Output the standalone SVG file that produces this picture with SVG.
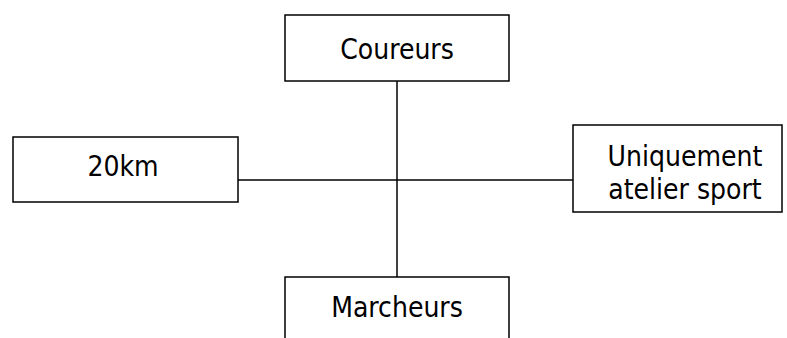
<svg xmlns="http://www.w3.org/2000/svg" width="787" height="338" viewBox="0 0 787 338">
<style>
.box{fill:#fff;stroke:#000;stroke-width:1.5}
.t{font-family:"DejaVu Sans Condensed","DejaVu Sans",sans-serif;font-stretch:condensed;font-size:28px;fill:#000;text-anchor:middle}
.c{stroke:#000;stroke-width:1.5;fill:none}
</style>
<rect width="787" height="338" fill="#fff"/>
<g id="connectors">
<line class="c" x1="397" y1="81" x2="397" y2="277"/>
<line class="c" x1="238" y1="180" x2="573" y2="180"/>
</g>
<g id="coureurs">
<rect class="box" x="285" y="15" width="224" height="66"/>
<text class="t" x="397" y="59">Coureurs</text>
</g>
<g id="km20">
<rect class="box" x="13" y="137" width="225" height="65"/>
<text class="t" x="123" y="176">20km</text>
</g>
<g id="atelier">
<rect class="box" x="573" y="125" width="209" height="87"/>
<text class="t" x="685" y="166">Uniquement</text>
<text class="t" x="685" y="199">atelier sport</text>
</g>
<g id="marcheurs">
<path class="box" d="M285,340 V277 H509 V340"/>
<text class="t" x="397" y="317">Marcheurs</text>
</g>
</svg>
